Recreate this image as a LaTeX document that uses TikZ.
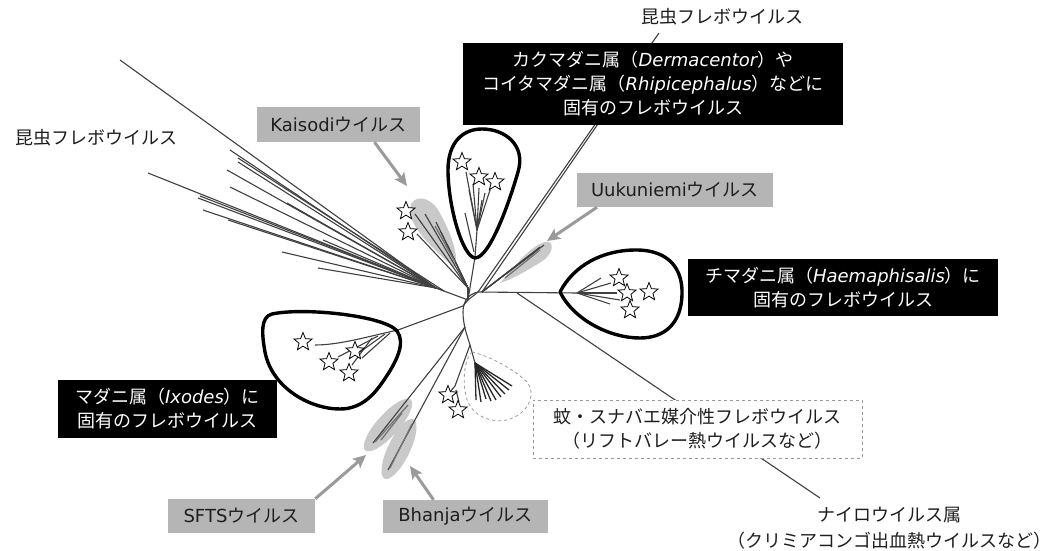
\documentclass[tikz,border=0pt]{standalone}
\usepackage{fontspec}
\setmainfont{DejaVu Sans}
\newfontfamily\jp{Noto Sans CJK JP}
\usetikzlibrary{arrows.meta,shapes.geometric}
\definecolor{boxgray}{HTML}{B5B5B5}
\definecolor{blobgray}{HTML}{C9C9C9}
\definecolor{arrgray}{HTML}{9A9A9A}
\definecolor{treecol}{HTML}{404040}
\definecolor{txt}{HTML}{1E1E1E}
\begin{document}
\begin{tikzpicture}[x=1pt,y=-1pt,
  every node/.style={font=\fontsize{18}{24}\selectfont, text=txt},
  tree/.style={draw=treecol, line width=1.1pt},
  darktree/.style={draw=black!85, line width=1.3pt},
  loopline/.style={draw=black, line width=3.4pt, line join=round},
  blob/.style={fill=blobgray, draw=none},
  gbox/.style={fill=boxgray, draw=none, inner sep=0pt, align=center},
  bbox/.style={fill=black, draw=none, inner sep=0pt, align=center, text=white},
  dbox/.style={fill=white, draw=gray!80, dashed, line width=0.7pt, inner sep=0pt, align=center},
  plain/.style={inner sep=0pt, align=center},
  garrow/.style={draw=arrgray, line width=3pt, -{Stealth[length=13pt,width=12pt,inset=3pt]}},
  tstar/.style={star, star points=5, star point ratio=2.3, minimum size=19pt, inner sep=0pt, draw=black, fill=white, line width=0.8pt}
]
\useasboundingbox (0,0) rectangle (1050,551);
\fill[white] (0,0) rectangle (1050,551);

% ---------- blobs (behind tree) ----------
\path[blob] (455,268) .. controls (440,255) and (408,228) .. (410,208) .. controls (412,194) and (430,196) .. (438,210) .. controls (448,226) and (460,255) .. (455,268) -- cycle;
\path[blob] (500,283) .. controls (515,266) and (530,246) .. (545,242) .. controls (556,240) and (553,255) .. (541,262) .. controls (526,271) and (511,280) .. (500,283) -- cycle;
\path[blob] (388,425) ellipse [x radius=34, y radius=11, rotate=48];
\path[blob] (399,449) ellipse [x radius=33, y radius=11, rotate=64];

% ---------- tree coordinates ----------
\coordinate (J0) at (468,300);
\coordinate (JT) at (478,292);
\coordinate (JI) at (436,288);
\coordinate (JK) at (468,288);
\coordinate (JD) at (475,257);
\coordinate (JD2) at (477,230);
\coordinate (JH) at (577,293);
\coordinate (JN) at (517,293);
\coordinate (JX) at (463,306);
\coordinate (JXi) at (398,330);
\coordinate (JL) at (465,327);
\coordinate (JR) at (470,345);
\coordinate (JRf) at (475,363);

% ---------- insect fan ----------
\foreach \p in {(120,60),(230,150),(238,162),(227,170),(230,187),(287,203),(148,173),(198,198),(203,210),(228,220),(323,240),(282,252),(318,268)}
  \draw[tree] (JI) -- \p;
\draw[tree] (JI) -- (J0);
\draw[tree] (444,291) -- (238,158);
\draw[tree] (444,291) -- (200,196);

% center
\draw[tree] (J0) -- (JT) -- (JH);
\draw[tree] (J0) -- (JX);
% top insect branch (double line)
\draw[tree] (JT) -- (659,33);
\draw[tree] (482,292) -- (620,92);
% Kaisodi
\draw[tree] (J0) -- (JK);
\foreach \p in {(415,214),(417,234),(425,214),(436,222),(441,232),(447,244)}
  \draw[tree] (JK) -- \p;
% Dermacentor clade
\draw[tree] (J0) -- (JD) -- (JD2);
\foreach \p in {(466,172),(473,184),(479,188),(485,193),(490,190),(482,200),(469,190)}
  \draw[tree] (JD2) -- \p;
\draw[tree] (465,213) -- (474,252);
% Uukuniemi
\foreach \p in {(540,247),(535,252),(529,256),(544,245)}
  \draw[tree] (482,292) -- \p;
% Haemaphisalis
\foreach \p in {(601,278),(611,283),(617,293),(620,300),(610,304)}
  \draw[tree] (JH) -- \p;
% Nairovirus branch
\draw[tree] (JN) -- (820,498);
% Ixodes
\draw[tree] (JX) -- (JXi);
\draw[tree] (JXi) .. controls (370,336) and (340,345) .. (315,345);
\draw[tree] (385,334) -- (360,352);
\draw[tree] (378,336) -- (338,357);
\draw[tree] (372,338) -- (352,365);
\draw[tree] (390,333) -- (362,358);
% lower curve
\draw[tree] (JT) .. controls (468,294) and (463,302) .. (463,312) .. controls (463,325) and (467,335) .. (JR);
\draw[tree] (JR) -- (JRf);
\draw[tree] (JR) -- (455,386);
\draw[tree] (455,386) -- (450,392);
\draw[tree] (456,390) -- (459,402);
% SFTS / Bhanja
\draw[tree] (JL) -- (373,443);
\draw[tree] (JL) -- (388,470);
\draw[darktree, draw=black!55] (408,405) -- (375,442);
\draw[darktree, draw=black!55] (412,424) -- (390,468);
\draw[darktree, draw=black!55] (402,413) -- (381,440);
% Uukuniemi darker
\draw[darktree, draw=black!55] (505,278) -- (540,250);
% Kaisodi darker
\draw[darktree, draw=black!55] (435,226) -- (455,262);
% Rift valley fan
\foreach \p in {(476,400),(481,402),(486,399),(491,401),(496,400),(501,397),(505,394),(509,390),(512,386)}
  \draw[darktree] (JRf) -- \p;

% ---------- loops ----------
\draw[loopline] (475,258) .. controls (462,256) and (448,205) .. (448,170) .. controls (448,142) and (463,129) .. (482,129) .. controls (506,129) and (526,146) .. (518,172) .. controls (510,200) and (490,258) .. (475,258) -- cycle;
\draw[loopline] (560,292) .. controls (574,265) and (603,250) .. (636,250) .. controls (670,250) and (683,270) .. (682,295) .. controls (681,324) and (664,338) .. (640,338) .. controls (610,338) and (574,320) .. (560,292) -- cycle;
\draw[loopline] (272,314) .. controls (305,307) and (385,316) .. (397,331) .. controls (406,343) and (396,362) .. (386,377) .. controls (375,394) and (362,409) .. (340,409) .. controls (310,409) and (272,388) .. (265,352) .. controls (262,335) and (260,317) .. (272,314) -- cycle;
% dashed outline (rift valley)
\draw[gray!80, dashed, line width=0.8pt] (472,352) .. controls (490,356) and (515,370) .. (527,382) .. controls (536,393) and (530,412) .. (510,419) .. controls (495,424) and (475,418) .. (468,402) .. controls (462,388) and (463,360) .. (472,352) -- cycle;

% ---------- stars ----------
\foreach \p/\n in {(406,211)/s1,(408,232)/s2,(462,162)/s3,(479,177)/s4,(495,182)/s5,(619,278)/s6,(627,293)/s7,(649,292)/s8,(630,310)/s9,(303,342)/s10,(329,362)/s11,(349,373)/s12,(355,351)/s13,(448,395)/s14,(458,410)/s15}
  \node[tstar] (\n) at \p {};

% ---------- labels ----------
\node[plain] (insL) at (96,138) {\jp 昆虫フレボウイルス};
\node[plain] (insT) at (722,17) {\jp 昆虫フレボウイルス};
\node[gbox, minimum width=163pt, minimum height=35pt] (kai) at (338.5,124.5) {Kaisodi{\jp ウイルス}};
\node[gbox, minimum width=196pt, minimum height=34pt] (uuk) at (675,190) {Uukuniemi{\jp ウイルス}};
\node[gbox, minimum width=147pt, minimum height=34pt] (sfts) at (241.5,516) {SFTS{\jp ウイルス}};
\node[gbox, minimum width=165pt, minimum height=33pt] (bha) at (465.5,516.5) {Bhanja{\jp ウイルス}};
\node[bbox, minimum width=380pt, minimum height=82pt] (derm) at (653,84)
  {\jp カクマダニ属（{\rmfamily\itshape Dermacentor}）や\\\jp コイタマダニ属（{\rmfamily\itshape Rhipicephalus}）などに\\\jp 固有のフレボウイルス};
\node[bbox, minimum width=310pt, minimum height=57pt] (haem) at (843,287.5)
  {\jp チマダニ属（{\rmfamily\itshape Haemaphisalis}）に\\\jp 固有のフレボウイルス};
\node[bbox, minimum width=219pt, minimum height=58pt] (ixo) at (167.5,409)
  {\jp マダニ属（{\rmfamily\itshape Ixodes}）に\\\jp 固有のフレボウイルス};
\node[dbox, minimum width=329pt, minimum height=58pt] (mos) at (697.5,429)
  {\jp 蚊・スナバエ媒介性フレボウイルス\\\jp （リフトバレー熱ウイルスなど）};
\node[plain, font=\fontsize{18}{26}\selectfont] (nai) at (889,528)
  {\jp ナイロウイルス属\\\jp （クリミアコンゴ出血熱ウイルスなど）};

% ---------- arrows ----------
\coordinate (kaiT) at (407,186);
\coordinate (uukT) at (547,241);
\coordinate (sftsT) at (366,455);
\coordinate (bhaT) at (410,466);
\draw[garrow] ([xshift=36pt]kai.south) -- (kaiT);
\draw[garrow] ([xshift=-78pt]uuk.south) -- (uukT);
\draw[garrow] (sfts.north east) -- (sftsT);
\draw[garrow] ([xshift=-32pt]bha.north) -- (bhaT);
\end{tikzpicture}
\end{document}
